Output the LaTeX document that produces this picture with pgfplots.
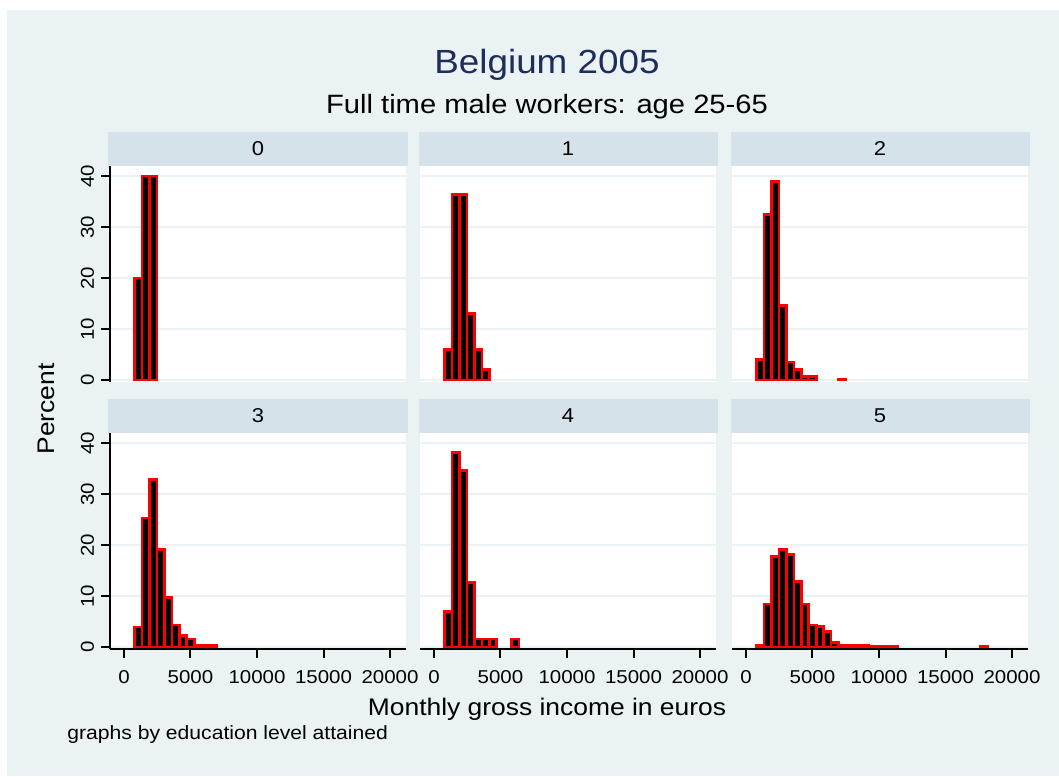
\documentclass[border=0pt]{standalone}
\usepackage{fontspec}
\setmainfont{Liberation Sans}[FakeStretch=1.1]
\usepackage{pgfplots}
\pgfplotsset{compat=1.18}

\definecolor{bgc}{RGB}{234,242,243}
\definecolor{stripc}{RGB}{214,226,233}
\definecolor{gridc}{RGB}{234,242,243}
\definecolor{titlec}{RGB}{30,45,90}

\pgfplotsset{
  panel/.style={
    scale only axis, width=148pt, height=108pt,
    xmin=-1050, xmax=21200, ymin=-0.4, ymax=42,
    axis background/.style={fill=white},
    axis x line*=bottom, axis y line*=left,
    axis line style={-, black, line width=1pt},
    xtick={0,5000,10000,15000,20000}, ytick={0,10,20,30,40},
    scaled x ticks=false,
    ymajorgrids, grid style={gridc, line width=1pt},
    tick align=outside, major tick length=4.5pt,
    tick style={black, line width=1pt},
    /pgf/number format/assume math mode=true,
    /pgf/number format/1000 sep={},
    tick label style={font=\fontsize{9.3}{10}\selectfont},
    yticklabel style={rotate=90, anchor=south},
    xticklabel style={yshift=-2.5pt},
    clip=false,
    every axis title/.style={at={(0.5,1)}, anchor=south, fill=stripc,
      minimum width=149.5pt, minimum height=17pt, inner sep=0pt,
      font=\fontsize{10}{11}\selectfont},
  },
  toprow/.style={xtick=\empty, x axis line style={draw=none}},
  inner/.style={yticklabels={}, ytick style={draw=none}, y axis line style={draw=none}},
  hist/.style={ybar interval, fill=black, draw=red, line width=1.3pt},
}

\begin{document}
\begin{tikzpicture}
\path[use as bounding box] (0,0) rectangle (529.5pt,388pt);
\fill[white] (0,0) rectangle (529.5pt,388pt);
\fill[bgc] (3.5pt,0) rectangle (529.5pt,383pt);

% education level 0
\begin{axis}[panel, toprow, at={(55pt,197pt)}, anchor=south west, title={0}]
\addplot[hist] coordinates {(800,20) (1360,40) (1920,40) (2480,0)};
\end{axis}

% level 1
\begin{axis}[panel, toprow, inner, at={(210pt,197pt)}, anchor=south west, title={1}]
\addplot[hist] coordinates {(800,6) (1360,36.4) (1920,36.4) (2480,13) (3040,6) (3600,2) (4160,0)};
\end{axis}

% level 2
\begin{axis}[panel, toprow, inner, at={(366pt,197pt)}, anchor=south west, title={2}]
\addplot[hist] coordinates {(800,4) (1360,32.5) (1920,39) (2480,14.6) (3040,3.5) (3600,2.1) (4160,0.7) (4720,0.7) (5280,0)};
\addplot[hist] coordinates {(6960,0.2) (7520,0)};
\end{axis}

% level 3
\begin{axis}[panel, at={(55pt,63.5pt)}, anchor=south west, title={3}]
\addplot[hist] coordinates {(800,3.9) (1360,25.3) (1920,32.9) (2480,19.1) (3040,9.7) (3600,4.3) (4160,2.2) (4720,1.6) (5280,0.4) (5840,0.4) (6400,0.4) (6960,0)};
\end{axis}

% level 4
\begin{axis}[panel, inner, at={(210pt,63.5pt)}, anchor=south west, title={4}]
\addplot[hist] coordinates {(800,7) (1360,38.2) (1920,34.6) (2480,12.7) (3040,1.6) (3600,1.6) (4160,1.6) (4720,0)};
\addplot[hist] coordinates {(5840,1.6) (6400,0)};
\end{axis}

% level 5
\begin{axis}[panel, inner, at={(366pt,63.5pt)}, anchor=south west, title={5}]
\addplot[hist] coordinates {(800,0.3) (1360,8.4) (1920,17.8) (2480,19.1) (3040,18.2) (3600,12.9) (4160,8.4) (4720,4.3) (5280,4.0) (5840,3.0) (6400,0.85) (6960,0.35) (7520,0.35) (8080,0.35) (8640,0.35) (9200,0.12) (9760,0.12) (10320,0.12) (10880,0.05) (11440,0)};
\addplot[hist] coordinates {(17600,0.05) (18160,0)};
\end{axis}

\node[anchor=base, text=titlec, font=\fontsize{16.75}{18}\selectfont] at (273.5pt,351.4pt) {Belgium 2005};
\node[anchor=base, font=\fontsize{13.25}{15}\selectfont] at (273.5pt,331.4pt) {Full time male workers: age 25-65};
\node[anchor=base, font=\fontsize{12}{14}\selectfont] at (273.5pt,30.5pt) {Monthly gross income in euros};
\node[anchor=base, rotate=90, font=\fontsize{12}{14}\selectfont] at (27.5pt,183.5pt) {Percent};
\node[anchor=base west, inner sep=0pt, font=\fontsize{9.6}{11}\selectfont] at (33.5pt,18.5pt) {graphs by education level attained};
\end{tikzpicture}
\end{document}
